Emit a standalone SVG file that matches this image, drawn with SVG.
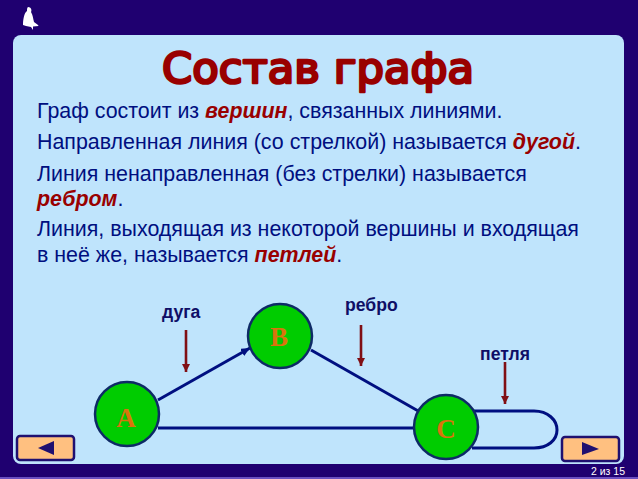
<svg xmlns="http://www.w3.org/2000/svg" width="638" height="479" viewBox="0 0 638 479">
<style>
.body{font-family:"Liberation Sans",Arial,sans-serif;font-size:21.4px;fill:#000f80}
.em{font-weight:bold;font-style:italic;fill:#990000}
.lab{font-family:"Liberation Sans",Arial,sans-serif;font-size:17.6px;font-weight:bold;fill:#0e0e66}
.node{fill:#00cc00;stroke:#0e2a66;stroke-width:2.5}
.nl{font-family:"Liberation Serif",serif;font-size:27px;font-weight:bold;fill:#d9730d;text-anchor:middle}
.edge{fill:none;stroke:#000f80;stroke-width:3}
.ptr{stroke:#800f14;stroke-width:2.6;fill:none}
.btn{fill:#ffc080;stroke:#1f1070;stroke-width:2.5}
</style>
<defs>
<marker id="redh" markerUnits="userSpaceOnUse" markerWidth="10" markerHeight="10" refX="8" refY="4" orient="auto"><path d="M0 0L8 4L0 8Z" fill="#800f14"/></marker>
<marker id="blueh" markerUnits="userSpaceOnUse" markerWidth="12" markerHeight="10" refX="9" refY="4" orient="auto"><path d="M0 0L9 4L0 8Z" fill="#000f80"/></marker>
</defs>
<rect width="638" height="479" fill="#1f0070"/>
<rect x="0" y="477" width="638" height="2" fill="#6a4fc0"/>
<rect x="13" y="35" width="611" height="429" rx="8" fill="#bfe4fc"/>
<path id="figure" d="M28 7C31 7 32 10 31 12C33 15 33 19 34 22L38 25L38.500 26L33 26.500L33 30L31 27L26 26L23 25C23 20 24 13 27 11C27 9 27 8 28 7Z" fill="#fff"/>
<text x="318" y="83" text-anchor="middle" font-family="'DejaVu Sans',sans-serif" font-size="42" fill="#990000" stroke="#990000" stroke-width="2.6" stroke-linejoin="round" textLength="312" lengthAdjust="spacingAndGlyphs">Состав графа</text>
<text class="body" x="37" y="118">Граф состоит из <tspan class="em">вершин</tspan>, связанных линиями.</text>
<text class="body" x="37" y="149">Направленная линия (со стрелкой) называется <tspan class="em">дугой</tspan>.</text>
<text class="body" x="37" y="181">Линия ненаправленная (без стрелки) называется</text>
<text class="body" x="37" y="206"><tspan class="em">ребром</tspan>.</text>
<text class="body" x="37" y="236">Линия, выходящая из некоторой вершины и входящая</text>
<text class="body" x="37" y="262">в неё же, называется <tspan class="em">петлей</tspan>.</text>
<g id="connectors">
<path class="edge" d="M158 400L250 348" marker-end="url(#blueh)"/>
<path class="edge" d="M311 350L420 412"/>
<path class="edge" d="M158 428L416 428"/>
<path class="edge" d="M474 411H534C548 411 557 420 557 430C557 440 548 448 534 448H472"/>
</g>
<g id="pointers">
<path class="ptr" d="M186 330V372" marker-end="url(#redh)"/>
<path class="ptr" d="M361 325V366" marker-end="url(#redh)"/>
<path class="ptr" d="M505 362V404" marker-end="url(#redh)"/>
</g>
<g id="node-A"><circle class="node" cx="127" cy="414" r="32"/><text class="nl" x="126" y="427">A</text></g>
<g id="node-B"><circle class="node" cx="280" cy="336" r="32"/><text class="nl" x="279" y="346">B</text></g>
<g id="node-C"><circle class="node" cx="446" cy="427" r="32"/><text class="nl" x="446" y="438">C</text></g>
<g id="label-duga"><text class="lab" x="162" y="318">дуга</text></g>
<g id="label-rebro"><text class="lab" x="345" y="311" font-size="18">ребро</text></g>
<g id="label-petlya"><text class="lab" x="480" y="360">петля</text></g>
<g id="btn-prev"><rect class="btn" x="17" y="436" width="57" height="24" rx="3"/><path d="M38 448L54 441V455Z" fill="#1f1070"/></g>
<g id="btn-next"><rect class="btn" x="562" y="437" width="57" height="24" rx="3"/><path d="M582 442L599 449L582 455Z" fill="#1f1070"/></g>
<text x="591" y="475" font-family="'Liberation Sans',Arial,sans-serif" font-size="11" fill="#fff" textLength="34" lengthAdjust="spacingAndGlyphs">2 из 15</text>
</svg>
